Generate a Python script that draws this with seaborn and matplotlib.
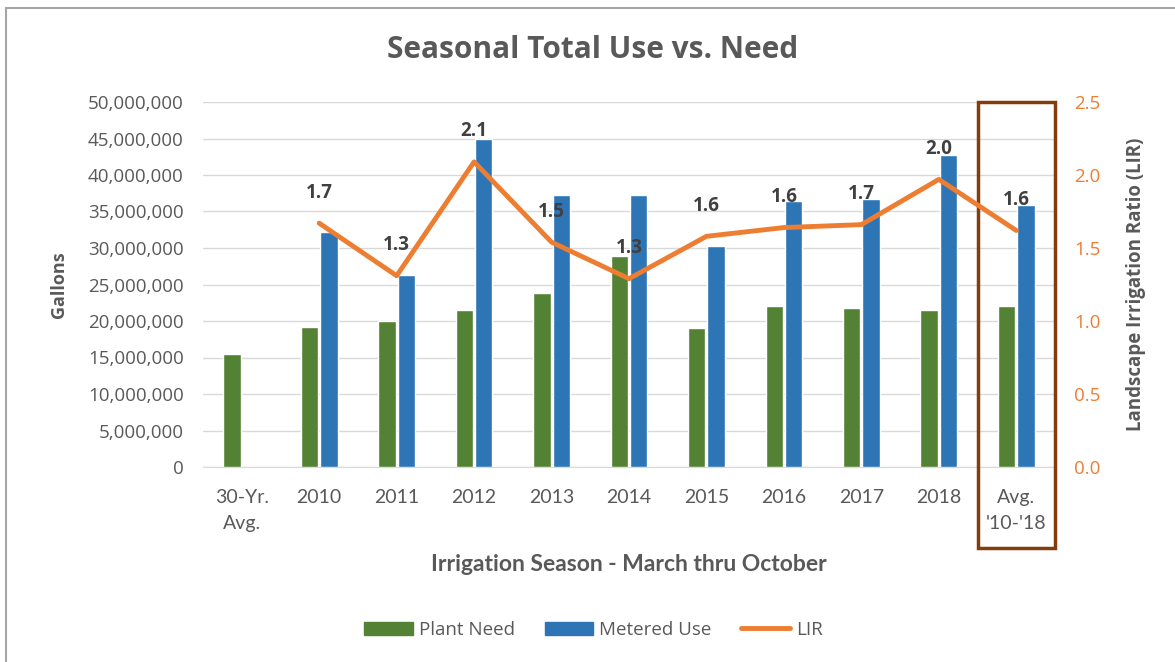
import numpy as np
import pandas as pd
import matplotlib
matplotlib.use("Agg")
import matplotlib.pyplot as plt
import matplotlib.transforms as mtransforms
from matplotlib.patches import Patch, Rectangle
from matplotlib.lines import Line2D
from matplotlib.ticker import FuncFormatter
import seaborn as sns

# dati
seasons = ["30-Yr.\nAvg.", "2010", "2011", "2012", "2013", "2014",
           "2015", "2016", "2017", "2018", "Avg.\n'10-'18"]
plant_need = [15.5e6, 19.2e6, 20.0e6, 21.5e6, 23.8e6, 28.9e6,
              19.0e6, 22.0e6, 21.8e6, 21.5e6, 22.0e6]
metered_use = [np.nan, 32.2e6, 26.3e6, 44.9e6, 37.3e6, 37.3e6,
               30.3e6, 36.4e6, 36.7e6, 42.7e6, 35.9e6]
lir_seasons = seasons[1:]
lir = [1.67, 1.31, 2.09, 1.54, 1.29, 1.58, 1.64, 1.66, 1.97, 1.62]

GREEN = "#548235"
BLUE = "#2E75B6"
ORANGE = "#ED7D31"
GRAY = "#595959"
GRID = "#D9D9D9"

sns.set_style("white")
plt.rcParams['font.family'] = ['Open Sans', 'DejaVu Sans']

df = pd.DataFrame({
    "season": seasons * 2,
    "serie": ["Plant Need"] * len(seasons) + ["Metered Use"] * len(seasons),
    "gallons": plant_need + metered_use,
})

fig = plt.figure(figsize=(11.75, 6.62), dpi=100)
ax = fig.add_axes([203 / 1175, 1 - 467 / 662, 852 / 1175, 365 / 662])

sns.barplot(data=df, x="season", y="gallons", hue="serie", order=seasons,
            hue_order=["Plant Need", "Metered Use"],
            palette=[GREEN, BLUE], saturation=1, width=0.5, gap=0.1,
            legend=False, ax=ax, zorder=3)

ax.set_ylim(0, 50e6)
ax.set_yticks(np.arange(0, 50e6 + 1, 5e6))
ax.yaxis.set_major_formatter(FuncFormatter(lambda v, p: f"{int(v):,}"))
ax.set_xlim(-0.5, len(seasons) - 0.5)
ax.grid(axis="y", color=GRID, lw=1, zorder=0)
ax.set_axisbelow(True)
for s in ["left", "right", "top"]:
    ax.spines[s].set_visible(False)
ax.spines["bottom"].set_color(GRID)
ax.tick_params(axis="both", length=0)
ax.tick_params(axis="y", labelsize=13.5, labelcolor=GRAY, pad=14)
ax.tick_params(axis="x", pad=16)
for t in ax.get_xticklabels():
    t.set_family(["Lato", "DejaVu Sans"])
    t.set_fontsize(14)
    t.set_color(GRAY)
    t.set_linespacing(1.6)
ax.set_xlabel("Irrigation Season - March thru October", fontsize=16.5,
              fontweight="bold", color=GRAY, family=["Lato", "DejaVu Sans"],
              labelpad=16)
ax.set_ylabel("Gallons", fontsize=13, fontweight="bold", color=GRAY,
              labelpad=14)

# asse destro LIR
ax2 = ax.twinx()
lir_x = [seasons.index(s) for s in lir_seasons]
sns.lineplot(x=lir_x, y=lir, color=ORANGE, lw=3.5, ax=ax2, zorder=4)
ax2.set_ylim(0, 2.5)
ax2.set_yticks(np.arange(0, 2.51, 0.5))
ax2.yaxis.set_major_formatter(FuncFormatter(lambda v, p: f"{v:.1f}"))
ax2.tick_params(axis="y", length=0, labelsize=13.5, labelcolor=ORANGE, pad=14)
for s in ["left", "right", "top", "bottom"]:
    ax2.spines[s].set_visible(False)
ax2.set_ylabel("Landscape Irrigation Ratio (LIR)", fontsize=13.5,
               fontweight="bold", color=GRAY, labelpad=18)
ax2.set_xlim(-0.5, len(seasons) - 0.5)

for x, v in zip(lir_x, lir):
    ax2.annotate(f"{v:.1f}", (x, v), xytext=(0, 22), textcoords="offset points",
                 ha="center", va="center", fontsize=13.5, fontweight="bold",
                 color="#404040", zorder=6)

# riquadro evidenziato sulla media
trans = mtransforms.blended_transform_factory(ax.transData, ax.transAxes)
idx = seasons.index("Avg.\n'10-'18")
box = Rectangle((idx - 0.5, -0.222), 1.0, 1.222, transform=trans, fill=False,
                edgecolor="#843C0C", lw=2.5, clip_on=False, zorder=10)
ax.add_patch(box)

fig.text(0.504, 1 - 50 / 662, "Seasonal Total Use vs. Need", ha="center",
         va="center", fontsize=21.5, fontweight="bold", color=GRAY)

handles = [Patch(color=GREEN, label="Plant Need"),
           Patch(color=BLUE, label="Metered Use"),
           Line2D([0], [0], color=ORANGE, lw=3.5, label="LIR")]
fig.legend(handles=handles, loc="center", bbox_to_anchor=(0.505, 1 - 630 / 662),
           ncol=3, frameon=False, fontsize=13.5, labelcolor=GRAY,
           handlelength=2.6, handleheight=0.7, handletextpad=0.3,
           columnspacing=1.6)

# cornice del grafico
fig.patches.append(Rectangle((6 / 1175, -0.05), 1.2, 1 - 8 / 662 + 0.05,
                             transform=fig.transFigure, fill=False,
                             edgecolor="#A6A6A6", lw=1.5))

fig.savefig("out.png", dpi=100)
